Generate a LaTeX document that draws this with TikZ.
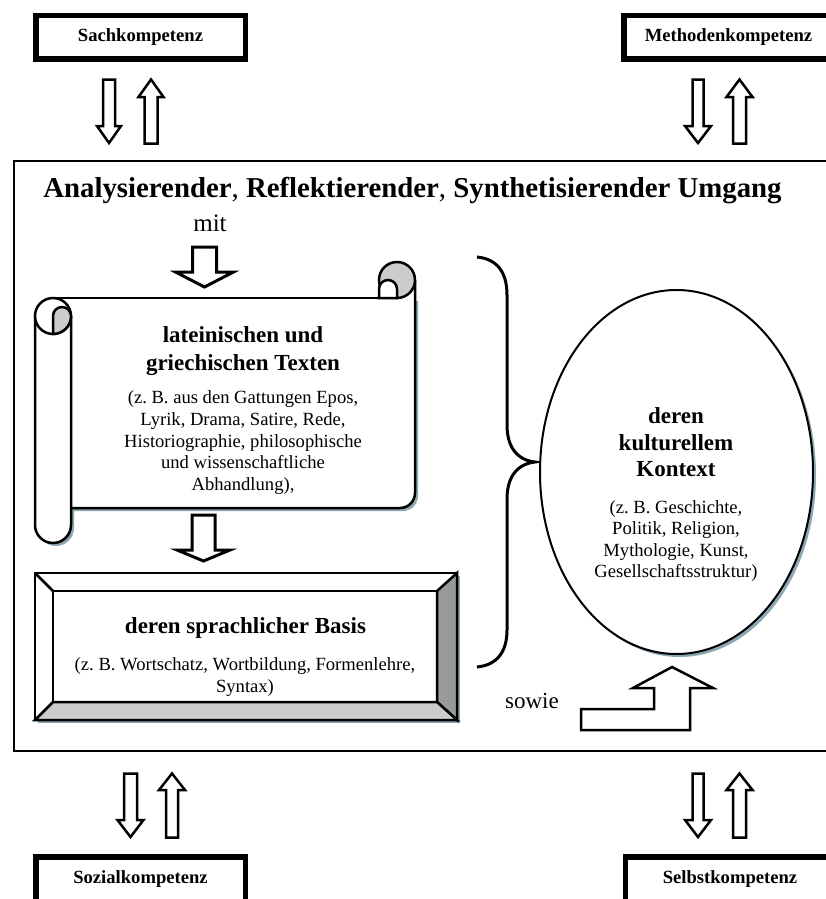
\documentclass[tikz,border=0pt]{standalone}
\usepackage{fontspec}
\setmainfont{Liberation Serif}
\usetikzlibrary{shapes.geometric}
\frenchspacing
\definecolor{shadowc}{RGB}{140,166,178}
\definecolor{rollgray}{RGB}{204,204,204}
\definecolor{bevdark}{RGB}{153,153,153}
\newcommand{\FS}[2]{\fontsize{#1}{#2}\selectfont}
% block arrow: cx, y start (flat end), shaft half width, head half width, y head base, y tip
\newcommand{\BlockArr}[7][hollow]{%
  \draw[#1] (#2-#4,#3) -- (#2+#4,#3) -- (#2+#4,#6) -- (#2+#5,#6) -- (#2,#7) -- (#2-#5,#6) -- (#2-#4,#6) -- cycle;}
\tikzset{
  hollow/.style={draw=black, line width=2.5pt, fill=white, line join=miter, miter limit=10},
  bighollow/.style={hollow, line width=3pt},
  compbox/.style={draw=black, line width=5.5pt, inner sep=0pt, fill=white, font={\FS{18.6}{22}\bfseries}},
  scrollline/.style={draw=black, line width=2.5pt},
  bevline/.style={draw=black, line width=2.5pt, line join=miter},
  heading/.style={inner sep=0pt, align=center, font={\FS{23}{28}\bfseries}},
  smalltext/.style={inner sep=0pt, align=center, font={\FS{18.6}{21.8}}},
}
\begin{document}
\begin{tikzpicture}[x=1pt,y=-1pt]
\useasboundingbox (0,0) rectangle (826,899);

% outer frame
\draw[line width=1.5pt] (14,161) rectangle (845,751);

% competence boxes
\node[compbox, minimum width=209.5pt, minimum height=43.5pt] (sach) at (140.5,37.5) {Sachkompetenz};
\node[compbox, minimum width=209.5pt, minimum height=43.5pt] (methoden) at (728.5,37.5) {Methodenkompetenz};
\node[compbox, minimum width=209.5pt, minimum height=44.5pt] (sozial) at (140.5,879) {Sozialkompetenz};
\node[compbox, minimum width=209.5pt, minimum height=44.5pt] (selbst) at (730,879) {Selbstkompetenz};

% small double arrows
\BlockArr{109}{79.5}{6}{12}{126}{143}
\BlockArr{151}{143.5}{6.5}{12.5}{97}{79.5}
\BlockArr{698}{79.5}{5.5}{13}{126}{143}
\BlockArr{739.5}{143.5}{6.5}{13}{97}{79.5}
\BlockArr{130.5}{773.5}{6.5}{13}{820}{837}
\BlockArr{172}{837.5}{6}{13}{790}{773.5}
\BlockArr{698}{773.5}{5.5}{13}{820}{837}
\BlockArr{739.5}{837.5}{6.5}{13}{790}{773.5}

% title
\node[anchor=base, inner sep=0pt, font={\FS{28.8}{34}}] (title) at (412.5,197)
  {\textbf{Analysierender}, \textbf{Reflektierender}, \textbf{Synthetisierender Umgang}};
\node[anchor=base, inner sep=0pt, font={\FS{25}{30}}] (mit) at (210,231) {mit};

% big arrows
\BlockArr[bighollow]{204.5}{247}{12}{29}{272}{287}
\BlockArr[bighollow]{203.5}{515}{11.5}{26.5}{550}{561}

% scroll: shadow
\begin{scope}[shift={(3,3)}]
\fill[shadowc] (53,298) -- (415,298) -- (415,493) arc[start angle=0,end angle=90,radius=15]
  -- (71,508) -- (71,525) arc[start angle=0,end angle=180,radius=18] -- (35,316)
  arc[start angle=180,end angle=360,radius=18] -- cycle;
\end{scope}
% scroll: body
\fill[white] (53,298) -- (415,298) -- (415,493) arc[start angle=0,end angle=90,radius=15]
  -- (71,508) -- (71,525) arc[start angle=0,end angle=180,radius=18] -- (35,316)
  arc[start angle=180,end angle=360,radius=18] -- cycle;
\draw[scrollline] (53,298) -- (397,298);
\draw[scrollline] (415,280) -- (415,493) arc[start angle=0,end angle=90,radius=15] -- (71,508);
\draw[scrollline] (71,316) -- (71,525) arc[start angle=0,end angle=180,radius=18] -- (35,316);
\draw[scrollline, fill=white] (53,316) circle[radius=18];
\filldraw[scrollline, fill=rollgray] (53,316) arc[start angle=180,end angle=360,radius=9]
  arc[start angle=0,end angle=90,radius=18] -- cycle;
\filldraw[scrollline, fill=rollgray] (397,280) circle[radius=18];
\filldraw[scrollline, fill=white] (379,289) -- (379,298) -- (397,298) -- (397,289)
  arc[start angle=0,end angle=-180,radius=9] -- cycle;

\node[heading, anchor=north] (texte) at (243,326.5) {lateinischen und\\griechischen Texten};
\node[smalltext, anchor=north] (textex) at (243,390.3)
  {(z. B. aus den Gattungen Epos,\\Lyrik, Drama, Satire, Rede,\\Historiographie, philosophische\\und wissenschaftliche\\Abhandlung),};

% bevel box
\fill[shadowc] (38,576) rectangle (460,723);
\filldraw[bevline, fill=white] (35,573) rectangle (457,720);
\filldraw[bevline, fill=bevdark] (457,573) -- (457,720) -- (437,702) -- (437,591) -- cycle;
\filldraw[bevline, fill=rollgray] (35,720) -- (457,720) -- (437,702) -- (53,702) -- cycle;
\draw[bevline] (53,591) rectangle (437,702);
\draw[bevline] (35,573) -- (53,591);
\node[heading, anchor=base] (basis) at (245.5,633) {deren sprachlicher Basis};
\node[smalltext, anchor=north, font={\FS{18.6}{22}}] (basisex) at (245,657.3)
  {(z. B. Wortschatz, Wortbildung, Formenlehre,\\Syntax)};

% brace
\draw[line width=3pt] (477,257) .. controls (497,259) and (507,272) .. (507,295) -- (507,425)
  .. controls (507,447) and (517,460) .. (535,462) .. controls (517,464) and (507,477) .. (507,499)
  -- (507,630) .. controls (507,652) and (497,665) .. (477,667);

% ellipse
\fill[shadowc] (679.5,475) ellipse [x radius=136.5, y radius=182];
\node[draw=black, ellipse, line width=2pt, fill=white, minimum width=273pt, minimum height=364pt, inner sep=0pt] (kontext) at (676.5,472) {};
\node[heading, anchor=north, font={\FS{23}{26.5}\bfseries}] (kontexthead) at (676,407.5) {deren\\kulturellem\\Kontext};
\node[smalltext, anchor=north, font={\FS{18.6}{21.3}}] (kontextex) at (676,500.3)
  {(z. B. Geschichte,\\Politik, Religion,\\Mythologie, Kunst,\\Gesellschaftsstruktur)};

% sowie
\node[anchor=base, inner sep=0pt, font={\FS{23}{28}}] (sowie) at (532,708) {sowie};
\draw[hollow] (581,709) -- (654,709) -- (654,688) -- (633,688) -- (672,667) -- (713,688)
  -- (690,688) -- (690,730) -- (581,730) -- cycle;
\end{tikzpicture}
\end{document}
